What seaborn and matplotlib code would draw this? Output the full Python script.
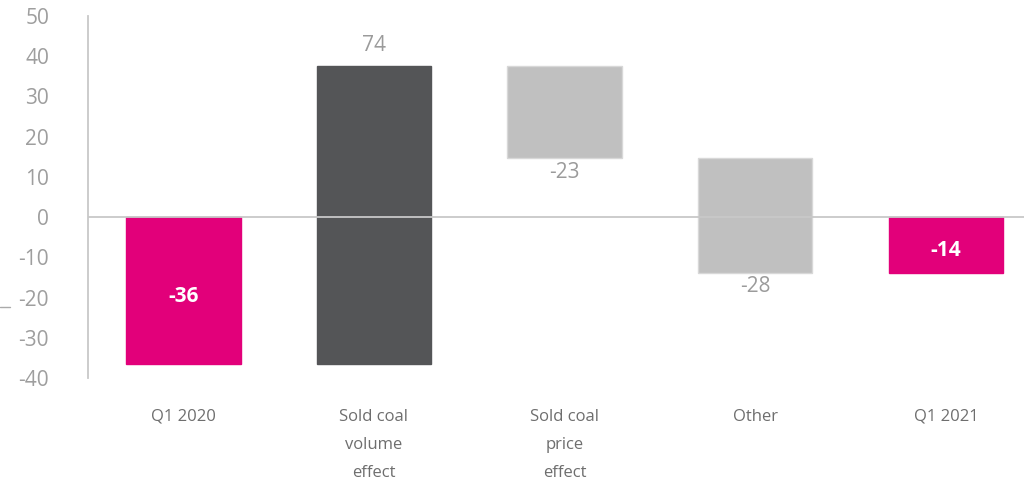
import matplotlib
matplotlib.use("Agg")
import matplotlib.pyplot as plt
from matplotlib.lines import Line2D
import seaborn as sns
import numpy as np

categories = ["Q1 2020", "Sold coal\nvolume\neffect", "Sold coal\nprice\neffect", "Other", "Q1 2021"]
start_value = -36.4
effects = [74.0, -23.0, -28.4]
labels = ["-36", "74", "-23", "-28", "-14"]
yticks = [-40, -30, -20, -10, 0, 10, 20, 30, 40, 50]

end_value = start_value + sum(effects)
heights = [start_value] + effects + [end_value]
bottoms = [0.0]
run = start_value
for e in effects:
    bottoms.append(run)
    run += e
bottoms.append(0.0)

colors = ["#E2007A", "#545557", "#C0C0C0", "#C0C0C0", "#E2007A"]
edges = ["#E2007A", "#545557", "#D8D8D8", "#D8D8D8", "#E2007A"]

sns.set_style("white")
plt.rcParams["font.family"] = ["Open Sans", "DejaVu Sans"]

fig = plt.figure(figsize=(10.24, 4.84), dpi=100)
ax = fig.add_axes([88 / 1024, (484 - 378) / 484, 1 - 88 / 1024, (378 - 16) / 484])

sns.barplot(x=categories, y=heights, hue=categories, palette=colors, legend=False,
            width=0.6, ax=ax, order=categories, hue_order=categories, saturation=1)

for container in ax.containers:
    for bar in container:
        idx = int(round(bar.get_x() + bar.get_width() / 2))
        bar.set_y(bottoms[idx])
        bar.set_height(heights[idx])
        bar.set_edgecolor(edges[idx])
        bar.set_linewidth(1.0)

ax.axhline(0, color="#C8C8C8", lw=1.3, zorder=5)

ax.set_ylim(-40, 50)
ax.set_xlim(-0.5, 4.41)
ax.set_yticks(yticks)
ax.set_yticklabels([str(t) for t in yticks])
ax.tick_params(axis="y", length=0, pad=28, labelsize=15, labelcolor="#9E9E9E")
ax.tick_params(axis="x", length=0, pad=22, labelsize=12, labelcolor="#6E6E6E")
for lbl in ax.get_xticklabels():
    lbl.set_linespacing(2.0)
    lbl.set_verticalalignment("top")

for s in ["top", "right", "bottom"]:
    ax.spines[s].set_visible(False)
ax.spines["left"].set_color("#C8C8C8")
ax.spines["left"].set_linewidth(1.3)
ax.set_xlabel("")
ax.set_ylabel("")

# value labels
for i, (b, h, lab) in enumerate(zip(bottoms, heights, labels)):
    top = b + h
    if i in (0, 4):
        ax.text(i, b + h / 2 - 1.5, lab, ha="center", va="center", color="white",
                fontsize=15, fontweight="bold", zorder=6)
    elif h > 0:
        ax.text(i, top + 2.5, lab, ha="center", va="bottom", color="#9B9B9B",
                fontsize=15, zorder=6)
    else:
        ax.text(i, top - 0.8, lab, ha="center", va="top", color="#9B9B9B",
                fontsize=15, zorder=6)

fig.add_artist(Line2D([0, 10 / 1024], [1 - 307 / 484] * 2, color="#AAAAAA", lw=1,
                      transform=fig.transFigure))

fig.savefig("out.png", dpi=100)
